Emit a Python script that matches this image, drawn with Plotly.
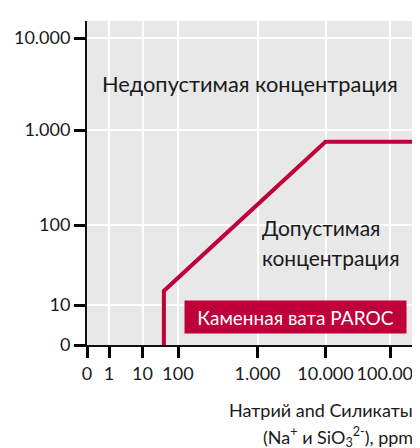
import numpy as np
import plotly.graph_objects as go

# Tick values / labels
x_tick_values = [0, 1, 10, 100, 1000, 10000, 100000]
x_tick_labels = ["0", "1", "10", "100", "1.000", "10.000", "100.000"]
y_tick_values = [0, 10, 100, 1000, 10000]
y_tick_labels = ["0", "10", "100", "1.000", "10.000"]

# Limit line (Na+ and SiO3 2- vs chloride), ppm
line_x = [40, 40, 10000, 250000]
line_y = [0, 15, 750, 750]

# Axis layout: non-uniform tick spacing (positions in axis units)
x_tick_pos = [0, 22, 55.5, 91, 170.5, 238.5, 303]
y_tick_pos = [0, 40, 120, 215, 307]
X_RANGE = [0, 328]
Y_RANGE = [0, 324]


def to_pos(v, vals, pos):
    v = float(v)
    if v <= 0:
        return pos[0]
    lv = np.log10(v)
    lvals = [np.log10(a) for a in vals[1:]]
    p = pos[1:]
    if lv <= lvals[0]:
        return p[0]
    for i in range(len(lvals) - 1):
        if lv <= lvals[i + 1]:
            t = (lv - lvals[i]) / (lvals[i + 1] - lvals[i])
            return p[i] + t * (p[i + 1] - p[i])
    slope = (p[-1] - p[-2]) / (lvals[-1] - lvals[-2])
    return p[-1] + (lv - lvals[-1]) * slope


px = [to_pos(v, x_tick_values, x_tick_pos) for v in line_x]
py = [to_pos(v, y_tick_values, y_tick_pos) for v in line_y]

RED = "#c0003a"
FONT = "Lato"
TXT = "#1a1a1a"

fig = go.Figure()
fig.add_trace(go.Scatter(x=px, y=py, mode="lines",
                         line=dict(color=RED, width=4),
                         hoverinfo="skip", showlegend=False, cliponaxis=True))

fig.add_annotation(x=163, y=262, xref="x", yref="y", text="Недопустимая концентрация",
                   showarrow=False, font=dict(family=FONT, size=21.8, color=TXT))
fig.add_annotation(x=173, y=118, xref="x", yref="y", text="Допустимая",
                   showarrow=False, xanchor="left", font=dict(family=FONT, size=21, color=TXT))
fig.add_annotation(x=173, y=88, xref="x", yref="y", text="концентрация",
                   showarrow=False, xanchor="left", font=dict(family=FONT, size=21, color=TXT))
fig.add_annotation(x=208.5, y=28, xref="x", yref="y", text="Каменная вата PAROC",
                   showarrow=False, bgcolor=RED, width=215, height=26, borderpad=3,
                   font=dict(family=FONT, size=19, color="white"))

fig.add_annotation(x=1, y=0, xref="paper", yref="paper", xanchor="right", yanchor="middle",
                   yshift=-65, text="Натрий and Силикаты", showarrow=False,
                   font=dict(family=FONT, size=18, color=TXT))
fig.add_annotation(x=1, y=0, xref="paper", yref="paper", xanchor="right", yanchor="middle",
                   yshift=-92, text="(Na<sup>+</sup> и SiO<sub>3</sub><sup>2-</sup>), ppm",
                   showarrow=False, font=dict(family=FONT, size=18, color=TXT))

axis_common = dict(showgrid=True, gridcolor="white", gridwidth=2,
                   showline=True, linecolor="#111", linewidth=2,
                   ticks="outside", ticklen=11, tickwidth=3, tickcolor="#000",
                   zeroline=False, fixedrange=True, ticklabeloverflow="allow",
                   automargin=False,
                   tickfont=dict(family=FONT, size=18, color=TXT))

fig.update_xaxes(range=X_RANGE, tickmode="array", tickvals=x_tick_pos,
                 ticktext=x_tick_labels, **axis_common)
fig.update_yaxes(range=Y_RANGE, tickmode="array", tickvals=y_tick_pos,
                 ticktext=y_tick_labels, **axis_common)

fig.update_layout(width=412, height=440, margin=dict(l=79, r=5, t=13, b=103),
                  plot_bgcolor="#e8e8e8", paper_bgcolor="white",
                  font=dict(family=FONT, color=TXT))

fig.write_html("out.html")
